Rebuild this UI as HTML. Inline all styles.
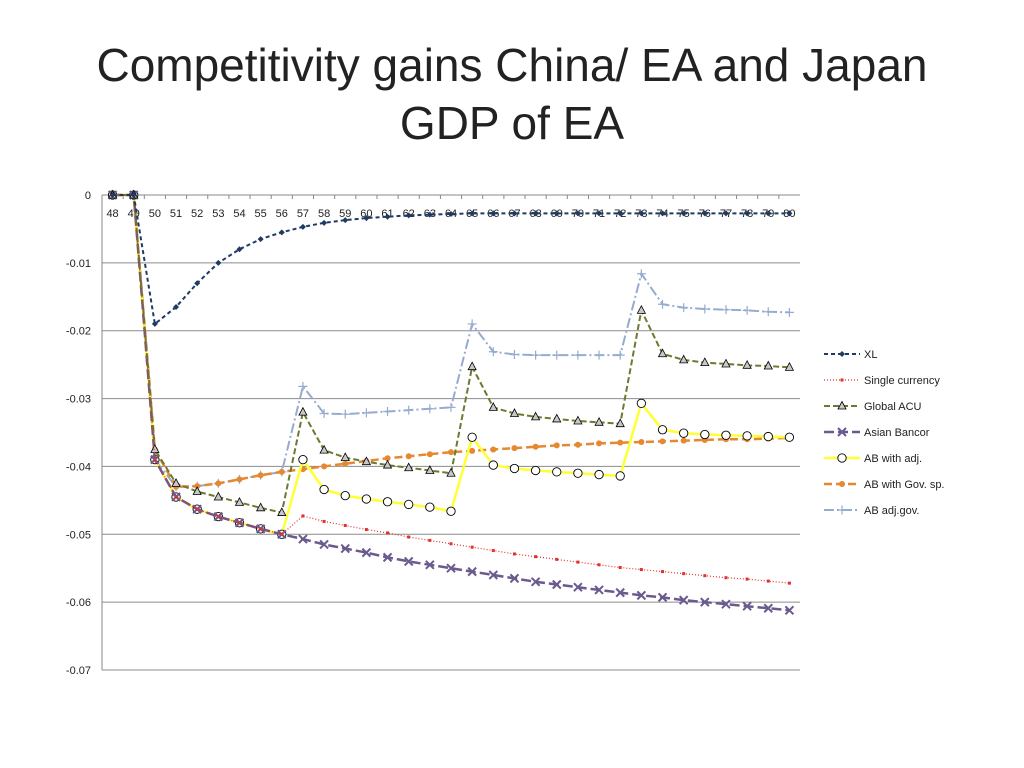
<!DOCTYPE html>
<html><head><meta charset="utf-8"><style>
body{margin:0;background:#fff;width:1024px;height:768px;overflow:hidden;font-family:"Liberation Sans",sans-serif}
#title{position:absolute;left:0;top:36px;width:1024px;text-align:center;font-size:46px;line-height:58px;color:#222}
</style></head><body>
<div id="title">Competitivity gains China/ EA and Japan<br>GDP of EA</div>
<svg id="chart" width="1024" height="768" style="position:absolute;left:0;top:0"></svg>
<script>
const categories=[48,49,50,51,52,53,54,55,56,57,58,59,60,61,62,63,64,65,66,67,68,69,70,71,72,73,74,75,76,77,78,79,80];
const yTicks=[0,-0.01,-0.02,-0.03,-0.04,-0.05,-0.06,-0.07];
const xl=[0,0,-0.019,-0.0165,-0.013,-0.010,-0.008,-0.0065,-0.0055,-0.0047,-0.0041,-0.0037,-0.0034,-0.0032,-0.003,-0.0029,-0.0028,-0.0027,-0.0027,-0.0027,-0.0027,-0.0027,-0.0027,-0.0027,-0.0027,-0.0027,-0.0027,-0.0027,-0.0027,-0.0027,-0.0027,-0.0027,-0.0027];
const singleCurrency=[0,0,-0.039,-0.0445,-0.0463,-0.0474,-0.0483,-0.0492,-0.0500,-0.0473,-0.0481,-0.0487,-0.0493,-0.0498,-0.0504,-0.0509,-0.0514,-0.0519,-0.0524,-0.0529,-0.0533,-0.0537,-0.0541,-0.0545,-0.0549,-0.0552,-0.0555,-0.0558,-0.0561,-0.0564,-0.0566,-0.0569,-0.0572];
const globalAcu=[0,0,-0.0375,-0.0425,-0.0437,-0.0445,-0.0453,-0.0461,-0.0468,-0.032,-0.0376,-0.0387,-0.0393,-0.0398,-0.0402,-0.0406,-0.041,-0.0253,-0.0313,-0.0322,-0.0327,-0.033,-0.0333,-0.0335,-0.0337,-0.017,-0.0234,-0.0243,-0.0247,-0.0249,-0.0251,-0.0252,-0.0254];
const asianBancor=[0,0,-0.039,-0.0445,-0.0463,-0.0474,-0.0483,-0.0492,-0.050,-0.0507,-0.0515,-0.0521,-0.0527,-0.0534,-0.054,-0.0545,-0.055,-0.0555,-0.056,-0.0565,-0.057,-0.0574,-0.0578,-0.0582,-0.0586,-0.059,-0.0593,-0.0597,-0.06,-0.0603,-0.0606,-0.0609,-0.0612];
const abAdj=[0,0,-0.039,-0.0445,-0.0463,-0.0474,-0.0483,-0.0492,-0.050,-0.039,-0.0434,-0.0443,-0.0448,-0.0452,-0.0456,-0.046,-0.0466,-0.0357,-0.0398,-0.0403,-0.0406,-0.0408,-0.041,-0.0412,-0.0414,-0.0307,-0.0346,-0.0351,-0.0353,-0.0354,-0.0355,-0.0356,-0.0357];
const abGov=[0,0,-0.0375,-0.043,-0.0429,-0.0425,-0.0419,-0.0413,-0.0408,-0.0404,-0.04,-0.0396,-0.0392,-0.0388,-0.0385,-0.0382,-0.0379,-0.0377,-0.0375,-0.0373,-0.0371,-0.0369,-0.0368,-0.0366,-0.0365,-0.0364,-0.0363,-0.0362,-0.0361,-0.036,-0.036,-0.0359,-0.0358];
const abAdjGov=[0,0,-0.039,-0.043,-0.0429,-0.0425,-0.0419,-0.0413,-0.0408,-0.0282,-0.0322,-0.0323,-0.0321,-0.0319,-0.0317,-0.0315,-0.0313,-0.019,-0.0231,-0.0235,-0.0236,-0.0236,-0.0236,-0.0236,-0.0236,-0.0116,-0.0161,-0.0166,-0.0168,-0.0169,-0.017,-0.0172,-0.0173];

const NS="http://www.w3.org/2000/svg";
const svg=document.getElementById('chart');
const pLeft=102,pRight=800,pTop=195,pBottom=670,yMin=-0.07;
const band=(pRight-pLeft)/categories.length;
function xs(i){return pLeft+band*(i+0.5);}
function ys(v){return pTop+(v/yMin)*(pBottom-pTop);}
function mk(t,a,p){const e=document.createElementNS(NS,t);for(const k in a)e.setAttribute(k,a[k]);(p||svg).appendChild(e);return e;}

yTicks.forEach((t,i)=>{
  const g=mk('line',{x1:pLeft,x2:pRight,y1:ys(t),y2:ys(t),stroke:i===0?'#888':'#8c8c8c','stroke-width':1});
  
  
  const tx=mk('text',{x:91,y:ys(t)+4,'text-anchor':'end','font-size':11,fill:'#222'});
  tx.textContent=String(t);
  
  
});
const ya=mk('line',{x1:pLeft,x2:pLeft,y1:pTop,y2:pBottom,stroke:'#888'});


categories.forEach((c,i)=>{
  mk('line',{x1:pLeft+band*i,x2:pLeft+band*i,y1:pTop,y2:pTop+4,stroke:'#888'});
  const tx=mk('text',{x:xs(i),y:217,'text-anchor':'middle','font-size':11,fill:'#222'});
  tx.textContent=c;
  
  
});

function marker(type,x,y,color,g){
  if(type==='diamond')mk('path',{d:`M${x},${y-3}L${x+3},${y}L${x},${y+3}L${x-3},${y}Z`,fill:color},g);
  else if(type==='square')mk('rect',{x:x-1.5,y:y-1.5,width:3,height:3,fill:color},g);
  else if(type==='triangle')mk('path',{d:`M${x},${y-4.5}L${x+4},${y+3}L${x-4},${y+3}Z`,fill:'#c8c8c8',stroke:'#000','stroke-width':0.8},g);
  else if(type==='x'){mk('path',{d:`M${x-4},${y-4}L${x+4},${y+4}M${x+4},${y-4}L${x-4},${y+4}`,stroke:color,'stroke-width':2},g);}
  else if(type==='circle')mk('circle',{cx:x,cy:y,r:4.2,fill:'#fff',stroke:'#000','stroke-width':0.9},g);
  else if(type==='dot')mk('circle',{cx:x,cy:y,r:3,fill:color},g);
  else if(type==='plus')mk('path',{d:`M${x-4.5},${y}L${x+4.5},${y}M${x},${y-4.5}L${x},${y+4.5}`,stroke:color,'stroke-width':1.2},g);
}
const series=[
  {name:'XL',data:xl,color:'#1f3b63',dash:'4,3',w:2,m:'diamond'},
  {name:'Single currency',data:singleCurrency,color:'#e03030',dash:'1,2',w:1.2,m:'square'},
  {name:'Global ACU',data:globalAcu,color:'#6b7a2e',dash:'6,3',w:2,m:'triangle'},
  {name:'Asian Bancor',data:asianBancor,color:'#6a5a8e',dash:'10,4',w:2.5,m:'x'},
  {name:'AB with adj.',data:abAdj,color:'#ffff33',dash:'',w:2.5,m:'circle'},
  {name:'AB with Gov. sp.',data:abGov,color:'#e5882f',dash:'8,4',w:2.5,m:'dot'},
  {name:'AB adj.gov.',data:abAdjGov,color:'#95acd0',dash:'10,3,2,3',w:2,m:'plus'}
];
const order=[6,5,4,3,2,1,0];
order.forEach(si=>{
  const s=series[si];
  const g=mk('g',{});
  
  
  const d=s.data.map((v,i)=>(i?'L':'M')+xs(i)+','+ys(v)).join('');
  mk('path',{d:d,fill:'none',stroke:s.color,'stroke-width':s.w,'stroke-dasharray':s.dash},g);
  s.data.forEach((v,i)=>marker(s.m,xs(i),ys(v),s.color,g));
});
series.forEach((s,i)=>{
  const y=354+i*26;
  const g=mk('g',{});
  
  
  mk('line',{x1:824,x2:860,y1:y,y2:y,stroke:s.color,'stroke-width':s.w,'stroke-dasharray':s.dash},g);
  marker(s.m,842,y,s.color,g);
  const t=mk('text',{x:864,y:y+4,'font-size':11,fill:'#222'},g);
  t.textContent=s.name;
});
</script>
</body></html>
